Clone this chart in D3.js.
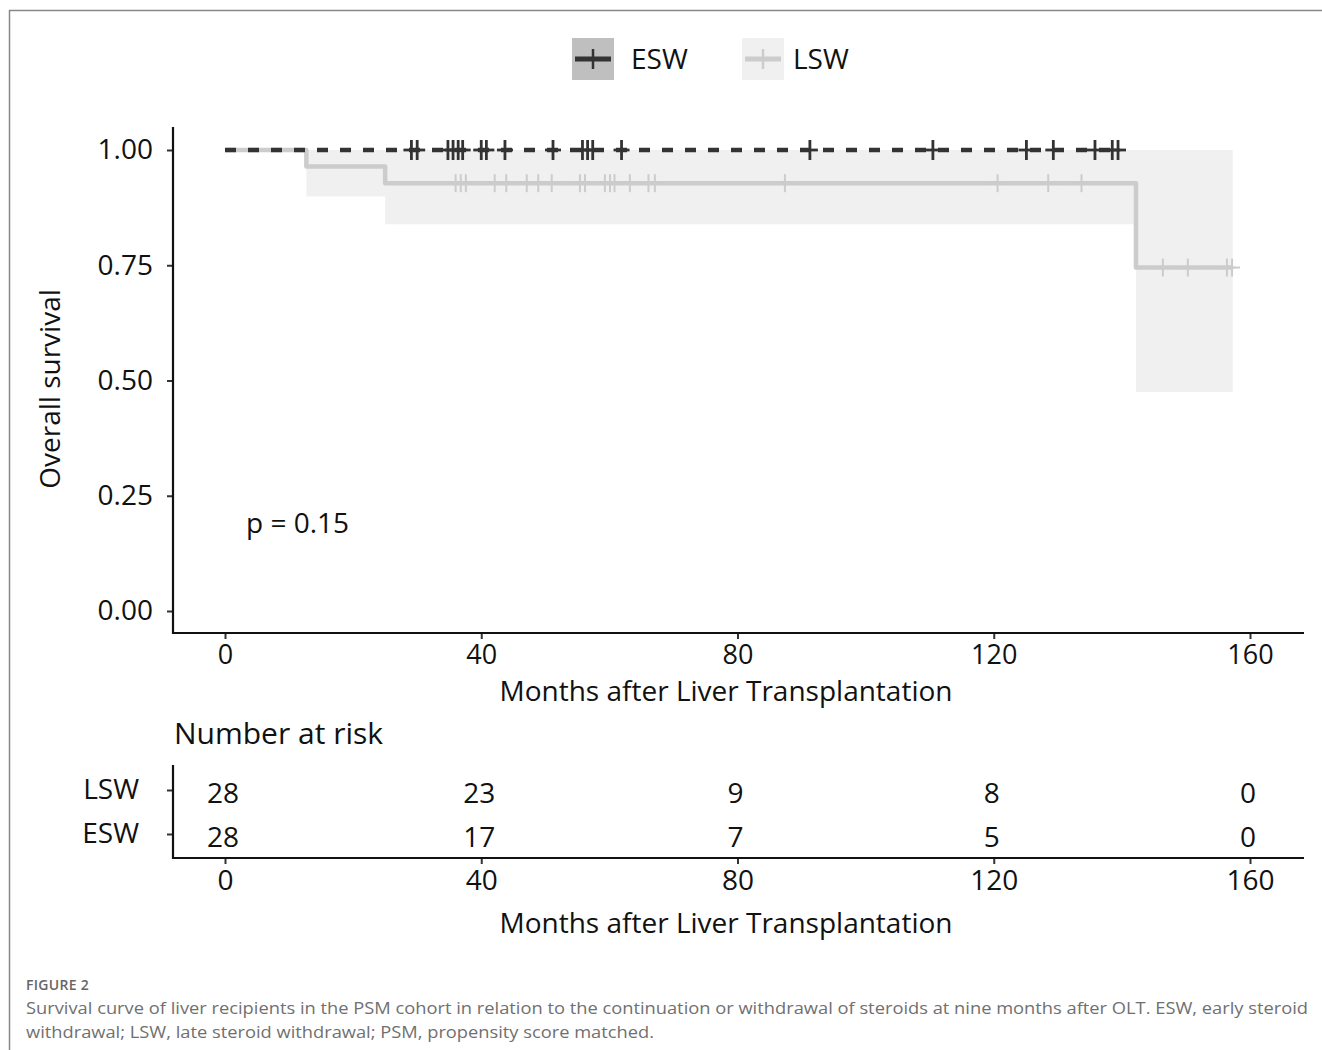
<!DOCTYPE html>
<html><head><meta charset="utf-8">
<script src="https://cdn.jsdelivr.net/npm/d3@7"></script>
<style>body{margin:0;background:#fff;} svg{display:block;} text{font-family:"Open Sans","Noto Sans",sans-serif;}</style>
</head><body>
<svg id="chart" width="1322" height="1050"></svg>
<script>
// ---- data ----
const groups = ["ESW", "LSW"];
const xTicks = [0, 40, 80, 120, 160];
const yTicks = [0, 0.25, 0.5, 0.75, 1.0];
// LSW Kaplan-Meier steps (time, survival)
const lswTimes = [0, 12.7, 25.0, 142.2, 157.3];
const lswSurv  = [1.0, 0.964, 0.928, 0.745, 0.745];
const lswLower = [1.0, 0.899, 0.839, 0.475, 0.475];
const lswUpper = [1.0, 1.0, 1.0, 1.0, 1.0];
// ESW: no events
const eswTimes = [0, 139.4];
const eswSurv  = [1.0, 1.0];
// censoring times
const eswCensor = [29.1, 30.0, 34.8, 35.6, 36.4, 37.1, 40.0, 40.8, 43.7, 51.2, 55.8, 56.6, 57.4, 61.9,
                   91.3, 110.5, 125.1, 129.3, 135.8, 138.5, 139.4];
const lswCensor = [36.0, 36.8, 37.6, 42.1, 43.9, 47.1, 48.9, 51.0, 55.4, 56.2, 59.3, 60.1, 60.8, 63.2, 66.1, 67.1,
                   87.4, 120.6, 128.5, 133.7, 146.4, 150.3, 156.4, 157.2];
// number at risk
const riskRows = ["LSW", "ESW"];
const riskLSW = [28, 23, 9, 8, 0];
const riskESW = [28, 17, 7, 5, 0];
const pLabel = "p = 0.15";
const xTitle = "Months after Liver Transplantation";
const yTitle = "Overall survival";
const captionHead = "FIGURE 2";
const captionLines = [
 "Survival curve of liver recipients in the PSM cohort in relation to the continuation or withdrawal of steroids at nine months after OLT. ESW, early steroid",
 "withdrawal; LSW, late steroid withdrawal; PSM, propensity score matched."
];

// ---- drawing ----
const svg = d3.select("#chart");
const colESW = "#333333", colLSW = "#cccccc", colBand = "#f0f0f0";

// frame
svg.append("line").attr("x1",9).attr("x2",1322).attr("y1",10.5).attr("y2",10.5).attr("stroke","#888").attr("stroke-width",1.5);
svg.append("line").attr("x1",9.5).attr("x2",9.5).attr("y1",10).attr("y2",1050).attr("stroke","#888").attr("stroke-width",1.5);

const x = d3.scaleLinear().domain([0,160]).range([225,1250]);
const y = d3.scaleLinear().domain([0,1]).range([611,150]);

// legend
const legend = svg.append("g");
const legItems = [{name:"ESW", box:"#bfbfbf", col:colESW, w:5, bx:572, tx:631},
                  {name:"LSW", box:colBand, col:colLSW, w:5, bx:742, tx:793}];
legItems.forEach(d=>{
  legend.append("rect").attr("x",d.bx).attr("y",38).attr("width",42).attr("height",42).attr("fill",d.box);
  legend.append("line").attr("x1",d.bx+3).attr("x2",d.bx+39).attr("y1",59).attr("y2",59).attr("stroke",d.col).attr("stroke-width",d.w);
  legend.append("line").attr("x1",d.bx+21).attr("x2",d.bx+21).attr("y1",49).attr("y2",69).attr("stroke",d.col).attr("stroke-width",2.5);
  legend.append("text").attr("x",d.tx).attr("y",69).attr("font-size",28).attr("fill","#111").text(d.name);
});

// band
const bandData = lswTimes.map((t,i)=>({t, lo:lswLower[i], hi:lswUpper[i]}));
svg.append("path").datum(bandData)
  .attr("d", d3.area().curve(d3.curveStepAfter).x(d=>x(d.t)).y0(d=>y(d.lo)).y1(d=>y(d.hi)))
  .attr("fill", colBand);

// LSW line
const lswData = lswTimes.map((t,i)=>({t, s:lswSurv[i]}));
const stepLine = d3.line().curve(d3.curveStepAfter).x(d=>x(d.t)).y(d=>y(d.s));
svg.append("path").datum(lswData).attr("d",stepLine).attr("fill","none")
  .attr("stroke",colLSW).attr("stroke-width",4.5).attr("stroke-linejoin","round");

// ESW line dashed
const eswData = eswTimes.map((t,i)=>({t, s:eswSurv[i]}));
svg.append("path").datum(eswData).attr("d",stepLine).attr("fill","none")
  .attr("stroke",colESW).attr("stroke-width",4.5).attr("stroke-dasharray","11,12");

// survival lookup for censor marks
function survAt(times, surv, t){ let s=surv[0]; for(let i=0;i<times.length;i++){ if(times[i]<=t) s=surv[i]; } return s; }

function drawCensor(list, times, surv, col, sw, h){
  const g = svg.append("g");
  list.forEach(t=>{
    const cx = x(t), cy = y(survAt(times,surv,t));
    g.append("line").attr("x1",cx-8).attr("x2",cx+8).attr("y1",cy).attr("y2",cy).attr("stroke",col).attr("stroke-width",sw);
    g.append("line").attr("x1",cx).attr("x2",cx).attr("y1",cy-h).attr("y2",cy+h).attr("stroke",col).attr("stroke-width",sw);
  });
}
drawCensor(lswCensor, lswTimes, lswSurv, colLSW, 2, 9);
drawCensor(eswCensor, eswTimes, eswSurv, colESW, 2.8, 10);

// axes main
const axisCol = "#111";
const tickFont = 28;
const gy = svg.append("g").attr("transform","translate(173,0)")
  .call(d3.axisLeft(y).tickValues(yTicks).tickFormat(d3.format(".2f")).tickSize(6).tickPadding(14));
gy.select(".domain").remove();
svg.append("line").attr("x1",173).attr("x2",173).attr("y1",127).attr("y2",634).attr("stroke",axisCol).attr("stroke-width",2.2);
const gx = svg.append("g").attr("transform","translate(0,633)")
  .call(d3.axisBottom(x).tickValues(xTicks).tickSize(6).tickPadding(6));
gx.select(".domain").remove();
svg.append("line").attr("x1",172).attr("x2",1304).attr("y1",633).attr("y2",633).attr("stroke",axisCol).attr("stroke-width",2.2);
[gx, gy].forEach(g=>{
  g.selectAll(".tick line").attr("stroke","#333").attr("stroke-width",2);
  g.selectAll(".tick text").attr("font-size",tickFont).attr("fill","#111").attr("font-family",'"Open Sans",sans-serif');
});
gx.selectAll(".tick text").attr("font-size",27);

svg.append("text").attr("x",726).attr("y",701).attr("text-anchor","middle").attr("font-size",28).attr("fill","#111").text(xTitle);
svg.append("text").attr("transform","translate(60,389) rotate(-90)").attr("text-anchor","middle").attr("font-size",28).attr("fill","#111").text(yTitle);
svg.append("text").attr("x",246).attr("y",533).attr("font-size",28).attr("fill","#111").text(pLabel);

// risk table
svg.append("text").attr("x",174).attr("y",744).attr("font-size",30).attr("fill","#111").text("Number at risk");
const yr = d3.scalePoint().domain(riskRows).range([790,834]);
const gry = svg.append("g").attr("transform","translate(173,0)")
  .call(d3.axisLeft(yr).tickSize(6).tickPadding(28));
gry.select(".domain").remove();
svg.append("line").attr("x1",173).attr("x2",173).attr("y1",765).attr("y2",859).attr("stroke",axisCol).attr("stroke-width",2.2);
const grx = svg.append("g").attr("transform","translate(0,858)")
  .call(d3.axisBottom(x).tickValues(xTicks).tickSize(6).tickPadding(6));
grx.select(".domain").remove();
svg.append("line").attr("x1",172).attr("x2",1304).attr("y1",858).attr("y2",858).attr("stroke",axisCol).attr("stroke-width",2.2);
[grx, gry].forEach(g=>{
  g.selectAll(".tick line").attr("stroke","#333").attr("stroke-width",2);
  g.selectAll(".tick text").attr("font-size",tickFont).attr("fill","#111").attr("font-family",'"Open Sans",sans-serif');
});
const riskVals = {LSW: riskLSW, ESW: riskESW};
riskRows.forEach(r=>{
  svg.append("g").selectAll("text").data(riskVals[r]).join("text")
    .attr("x",(d,i)=>x(xTicks[i])-2).attr("y",yr(r)+13).attr("text-anchor","middle")
    .attr("font-size",28).attr("fill","#111").text(d=>d);
});
svg.append("text").attr("x",726).attr("y",933).attr("text-anchor","middle").attr("font-size",28).attr("fill","#111").text(xTitle);

// caption
svg.append("text").attr("x",26).attr("y",990).attr("font-size",14).attr("fill","#666").attr("font-weight",600).attr("letter-spacing",0.3).text(captionHead);
svg.append("text").attr("x",26).attr("y",1014).attr("font-size",17).attr("fill","#707070")
  .attr("textLength",1282).attr("lengthAdjust","spacingAndGlyphs").text(captionLines[0]);
svg.append("text").attr("x",26).attr("y",1038).attr("font-size",17).attr("fill","#707070")
  .attr("textLength",628).attr("lengthAdjust","spacingAndGlyphs").text(captionLines[1]);
</script>
</body></html>
